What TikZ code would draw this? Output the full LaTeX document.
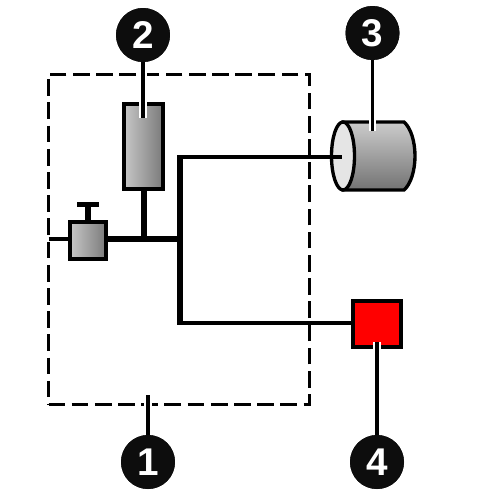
\documentclass[tikz,border=0pt]{standalone}
\usepackage{fontspec}
\setmainfont{Liberation Sans}
\usepackage{tikz}
\usepackage{xcolor}
\usetikzlibrary{shapes.geometric}

\begin{document}
\begin{tikzpicture}[x=0.02cm, y=-0.02cm,
    every node/.style={inner sep=0pt, outer sep=0pt},
    badge/.style={circle, fill=black!95, minimum size=1.08cm, text=white, font=\fontsize{22}{22}\selectfont\bfseries},
    tankbox/.style={draw=black, line width=2.1pt, left color=black!22, right color=black!52},
    leader/.style={line width=2.1pt, preaction={draw=white, line width=4.4pt}},
    pipe/.style={line width=3.1pt}]
  \useasboundingbox (0,0) rectangle (500,500);

  % boundary
  \node[draw, line width=1.7pt, dash pattern=on 9.5pt off 3.7pt, minimum width=5.22cm, minimum height=6.62cm] (boundary) at (179,239.5) {};

  % parts
  \node[tankbox, minimum width=0.78cm, minimum height=1.7cm] (tank) at (143.5,146.5) {};
  \node[tankbox, minimum width=0.72cm, minimum height=0.74cm] (valve) at (88,240.5) {};
  \node[fill=black, minimum width=0.46cm, minimum height=0.1cm] (handle) at (88,204) {};
  \draw[pipe] (handle) -- (valve);

  \draw[draw=black, line width=1.9pt, top color=black!20, bottom color=black!55]
    (343,122) -- (404,122) .. controls (411,128) and (415,142) .. (415,156)
    .. controls (415,170) and (411,184) .. (404,190) -- (343,190) -- cycle;
  \node[ellipse, draw=black, line width=1.9pt, fill=black!10, minimum width=0.46cm, minimum height=1.36cm] (drum) at (343,156) {};
  \node[draw=black, line width=1.9pt, fill=red, minimum width=0.96cm, minimum height=0.92cm] (redbox) at (377,324) {};

  % piping
  \coordinate (tee) at (180,239);
  \coordinate (drumend) at (342,157);
  \coordinate (branch) at (144,239);
  \draw[line width=1.9pt] (boundary.west |- tee) -- (valve.west |- tee);
  \draw[line width=3.4pt] (valve.east |- tee) -- (tee);
  \draw[pipe] (tank.south -| branch) -- (branch);
  \draw[line width=3pt] (tee) -- (180,155);
  \draw[line width=2.4pt] (180,157) -- (drumend);
  \draw[line width=3pt] (tee) -- (180,325);
  \draw[line width=2pt] (180,323) -- (redbox.west |- 180,323);

  % callouts
  \node[badge] (callA) at (148,462) {1};
  \node[badge] (callB) at (143,35) {2};
  \node[badge] (callC) at (372.5,33) {3};
  \node[badge] (callD) at (377,462) {4};
  \coordinate (tipA) at (148,395);
  \coordinate (tipB) at (143,118);
  \coordinate (tipC) at (372.5,131);
  \coordinate (tipD) at (377,342);
  \draw[leader] (callA) -- (tipA);
  \draw[leader] (callB) -- (tipB);
  \draw[leader] (callC) -- (tipC);
  \draw[leader, line width=1.8pt] (callD) -- (tipD);
  \node[badge] at (callA) {1};
  \node[badge] at (callB) {2};
  \node[badge] at (callC) {3};
  \node[badge] at (callD) {4};
\end{tikzpicture}
\end{document}
